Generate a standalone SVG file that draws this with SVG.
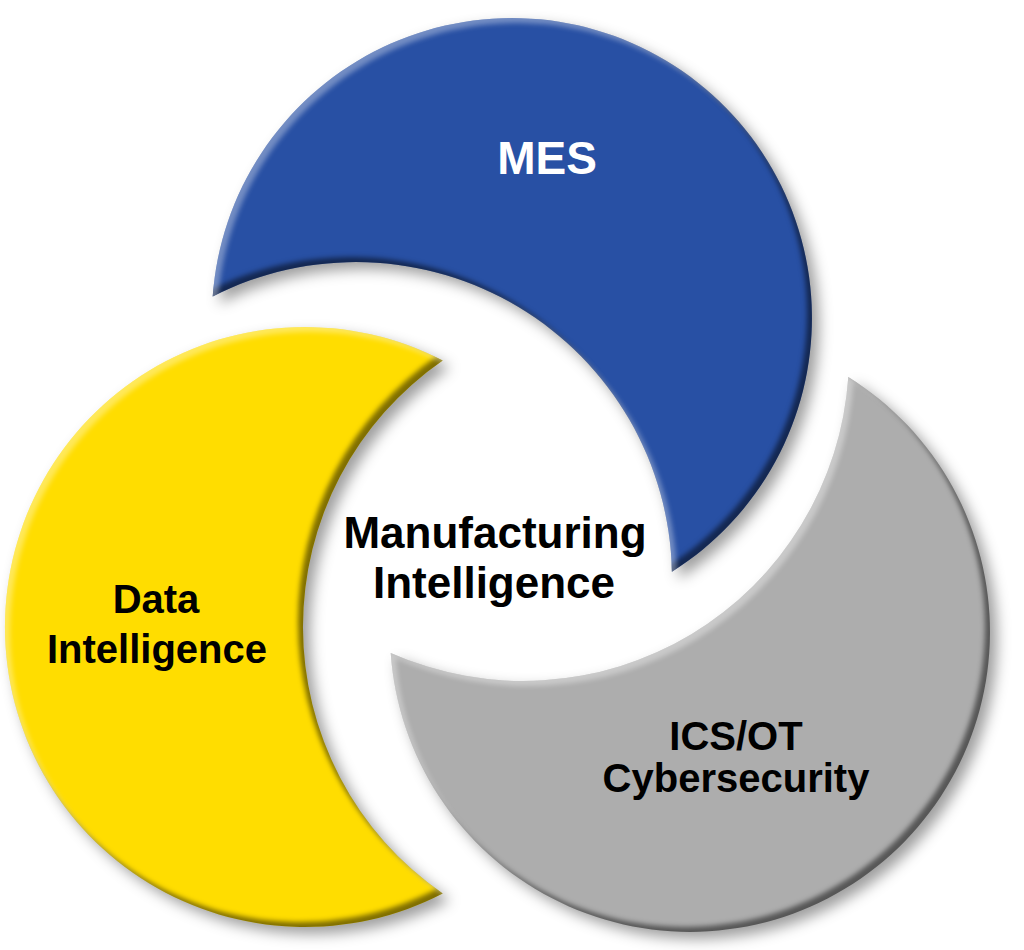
<svg xmlns="http://www.w3.org/2000/svg" width="1024" height="950" viewBox="0 0 1024 950">
  <style>
    .lbl { font-family: "Liberation Sans", Arial, sans-serif; font-weight: bold; text-anchor: middle; }
    .dark { fill: #000; }
    .white { fill: #fff; }
  </style>
  <defs>
    <filter id="fx" x="-15%" y="-15%" width="135%" height="135%" color-interpolation-filters="sRGB">
      <feGaussianBlur in="SourceAlpha" stdDeviation="7" result="sh"/>
      <feOffset in="sh" dx="7" dy="7" result="sho"/>
      <feFlood flood-color="#000" flood-opacity="0.38"/>
      <feComposite in2="sho" operator="in" result="drop"/>
      <feGaussianBlur in="SourceAlpha" stdDeviation="2.5" result="b"/>
      <feOffset in="b" dx="-5" dy="-5" result="bUL"/>
      <feComposite in="SourceAlpha" in2="bUL" operator="out" result="darkEdge"/>
      <feFlood flood-color="#000" flood-opacity="0.5"/>
      <feComposite in2="darkEdge" operator="in" result="dark"/>
      <feOffset in="b" dx="5" dy="5" result="bDR"/>
      <feComposite in="SourceAlpha" in2="bDR" operator="out" result="lightEdge"/>
      <feFlood flood-color="#fff" flood-opacity="0.35"/>
      <feComposite in2="lightEdge" operator="in" result="light"/>
      <feMerge>
        <feMergeNode in="drop"/>
        <feMergeNode in="SourceGraphic"/>
        <feMergeNode in="dark"/>
        <feMergeNode in="light"/>
      </feMerge>
    </filter>
  </defs>
  <rect width="1024" height="950" fill="#fff"/>

  <g id="data-intelligence">
    <path filter="url(#fx)" fill="#FFDD00" d="M442.7,360.5 A300,300 0 1 0 442.7,893.5 A324,324 0 0 1 442.7,360.5 Z"/>
    <text class="lbl dark" font-size="40" x="156" y="613">Data</text>
    <text class="lbl dark" font-size="40" x="157" y="663">Intelligence</text>
  </g>

  <g id="mes">
    <path filter="url(#fx)" fill="#2850A4" d="M212.7,296.4 A300,300 0 1 1 671.9,571.8 A316,316 0 0 0 212.7,296.4 Z"/>
    <text class="lbl white" font-size="46" x="547" y="174">MES</text>
  </g>

  <g id="ics-ot">
    <path filter="url(#fx)" fill="#ADADAD" d="M848.3,377.1 A300,300 0 1 1 390.7,652.9 A326,326 0 0 0 848.3,377.1 Z"/>
    <text class="lbl dark" font-size="40" x="736" y="750">ICS/OT</text>
    <text class="lbl dark" font-size="40" x="736" y="792">Cybersecurity</text>
  </g>

  <g id="manufacturing-intelligence">
    <text class="lbl dark" font-size="44" x="495" y="548">Manufacturing</text>
    <text class="lbl dark" font-size="44" x="494" y="598">Intelligence</text>
  </g>

  <g id="connectors"/>
</svg>
